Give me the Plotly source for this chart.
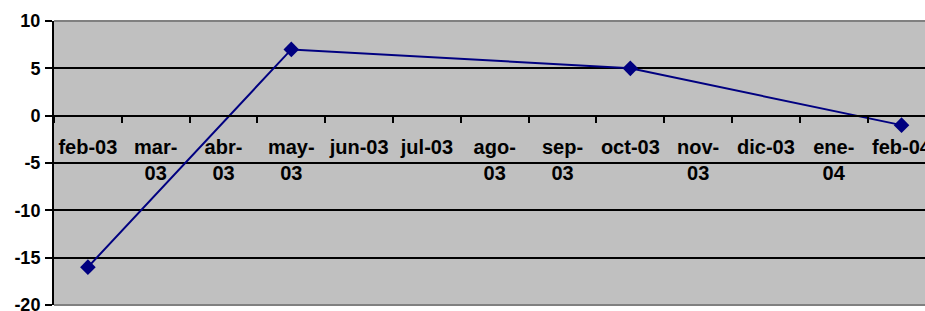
import plotly.graph_objects as go

months = ["feb-03", "mar-03", "abr-03", "may-03", "jun-03", "jul-03", "ago-03",
          "sep-03", "oct-03", "nov-03", "dic-03", "ene-04", "feb-04"]
month_labels = ["feb-03", "mar-<br>03", "abr-<br>03", "may-<br>03", "jun-03", "jul-03",
                "ago-<br>03", "sep-<br>03", "oct-03", "nov-<br>03", "dic-03", "ene-<br>04", "feb-04"]
point_months = ["feb-03", "may-03", "oct-03", "feb-04"]
point_values = [-16, 7, 5, -1]
y_ticks = [10, 5, 0, -5, -10, -15, -20]

navy = "#000080"
fig = go.Figure()
fig.add_trace(go.Scatter(
    x=point_months, y=point_values, mode="lines+markers",
    line=dict(color=navy, width=2),
    marker=dict(symbol="diamond", size=12, color=navy),
    showlegend=False, cliponaxis=False,
))

fig.update_layout(
    width=925, height=311,
    margin=dict(l=54, r=0, t=21, b=6),
    paper_bgcolor="white", plot_bgcolor="#c0c0c0",
    font=dict(family="Liberation Sans, Arial, sans-serif", color="black"),
    xaxis=dict(
        type="category", categoryorder="array", categoryarray=months,
        tickmode="array", tickvals=months, ticktext=[f"<b>{t}</b>" for t in month_labels],
        range=[-0.5, 12.346], tickson="boundaries", tickangle=0, automargin=False,
        showgrid=False, showline=True, linecolor="black", linewidth=2,
        ticks="outside", ticklen=6, tickwidth=2, tickcolor="black",
        anchor="free", position=2 / 3, ticklabelstandoff=13,
        tickfont=dict(size=20), zeroline=False, ticklabeloverflow="allow",
    ),
    yaxis=dict(
        range=[-20, 10], tickmode="array", tickvals=y_ticks,
        ticktext=[f"<b>{v}</b>" for v in y_ticks], automargin=False,
        showgrid=True, gridcolor="black", gridwidth=2,
        showline=True, linecolor="black", linewidth=2,
        ticks="outside", ticklen=7, tickwidth=2, tickcolor="black",
        tickfont=dict(size=18), zeroline=False, ticklabelstandoff=1,
        ticklabeloverflow="allow",
    ),
    shapes=[
        dict(type="line", xref="paper", yref="paper", x0=0, x1=1, y0=1, y1=1,
             line=dict(color="#808080", width=2), layer="above"),
        dict(type="line", xref="paper", yref="paper", x0=0, x1=1, y0=0, y1=0,
             line=dict(color="#808080", width=2), layer="above"),
    ],
)

fig.write_html(
    "out.html",
    config={"displayModeBar": False},
    post_script="document.body.style.margin='0';document.body.style.overflow='hidden';",
)
